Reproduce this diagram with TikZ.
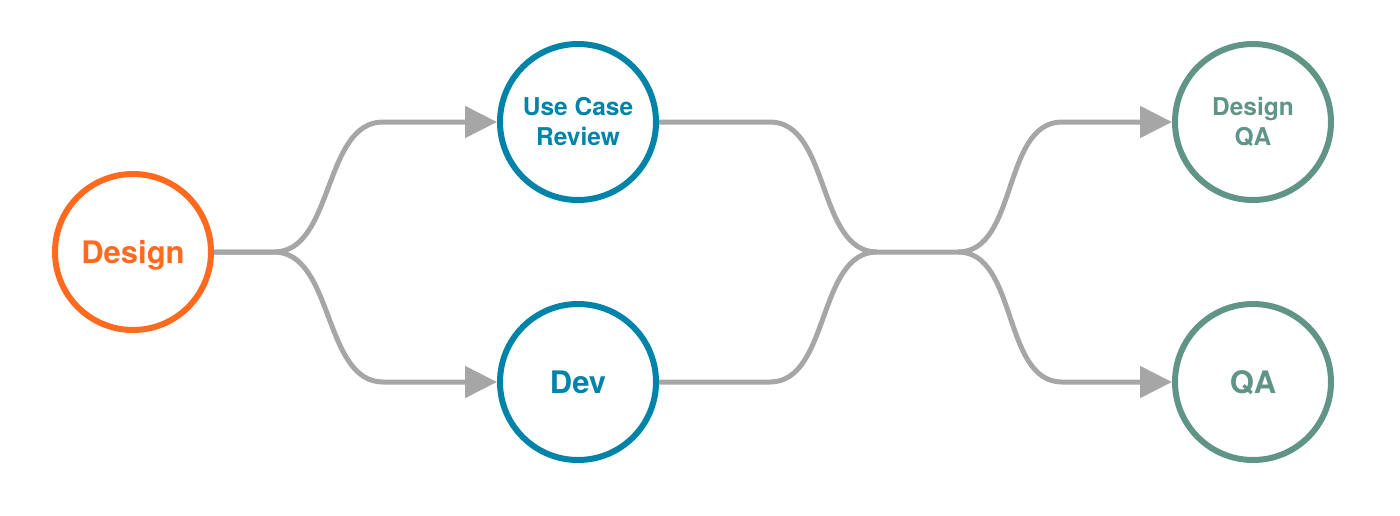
\documentclass[tikz,border=0pt]{standalone}
\usepackage{fontspec}
\setmainfont{TeX Gyre Heros}
\usetikzlibrary{arrows.meta}
\definecolor{orng}{HTML}{FF6A1E}
\definecolor{blu}{HTML}{0083A9}
\definecolor{grn}{HTML}{609486}
\definecolor{gry}{HTML}{A6A6A6}
\tikzset{
  stage/.style={circle, draw, line width=6pt, minimum size=156pt, inner sep=0pt, align=center},
  big/.style={font=\fontsize{31}{36}\selectfont\bfseries, text height=22.3pt, text depth=0pt},
  small/.style={font=\fontsize{24.5}{30}\selectfont\bfseries},
  conn/.style={draw=gry, line width=5pt},
  arr/.style={conn, -{Triangle[length=32pt,width=31pt,fill=gry]}},
}
\begin{document}
\begin{tikzpicture}[x=1pt,y=-1pt]
\useasboundingbox (0,0) rectangle (1400,515);
\node[stage, big, draw=orng, text=orng] (d) at (133,252) {Design};
\node[stage, small, draw=blu, text=blu] (ucr) at (578,122) {Use Case\\Review};
\node[stage, big, draw=blu, text=blu] (dev) at (578,382) {Dev};
\node[stage, small, draw=grn, text=grn] (dqa) at (1253,122) {Design\\QA};
\node[stage, big, draw=grn, text=grn] (qa) at (1253,382) {QA};
\coordinate (s1) at (274,252);
\coordinate (a1) at (383,122);
\coordinate (a2) at (383,382);
\coordinate (m1) at (770,122);
\coordinate (m2) at (770,382);
\coordinate (j) at (877,252);
\coordinate (k) at (958,252);
\coordinate (b1) at (1062,122);
\coordinate (b2) at (1062,382);
\draw[arr] (d.east) -- (s1) .. controls +(60,0) and +(-60,0) .. (a1) -- (ucr.west);
\draw[arr] (d.east) -- (s1) .. controls +(60,0) and +(-60,0) .. (a2) -- (dev.west);
\draw[conn] (ucr.east) -- (m1) .. controls +(60,0) and +(-60,0) .. (j) -- (k);
\draw[conn] (dev.east) -- (m2) .. controls +(60,0) and +(-60,0) .. (j);
\draw[arr] (k) .. controls +(60,0) and +(-60,0) .. (b1) -- (dqa.west);
\draw[arr] (k) .. controls +(60,0) and +(-60,0) .. (b2) -- (qa.west);
\end{tikzpicture}
\end{document}
